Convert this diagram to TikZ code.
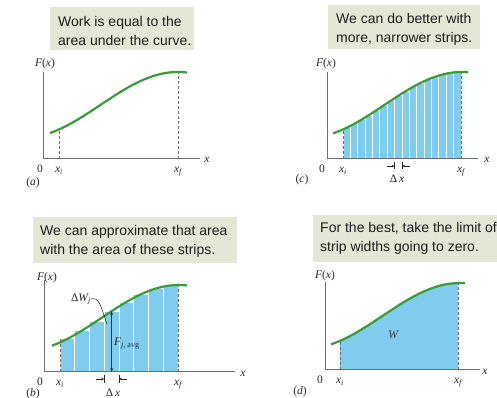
\documentclass[tikz,border=0pt]{standalone}
\usepackage{fontspec}
\setmainfont{Liberation Serif}
\setsansfont{Liberation Sans}
\usetikzlibrary{arrows.meta}
\definecolor{boxfill}{RGB}{228,231,214}
\definecolor{stripblue}{RGB}{128,204,238}
\definecolor{curvegreen}{RGB}{58,155,58}
\definecolor{axisgray}{RGB}{110,110,110}
\definecolor{textdark}{RGB}{30,30,30}
\definecolor{arrowblue}{RGB}{30,50,80}
\pgfmathdeclarefunction{hh}{1}{\pgfmathparse{54.1-32.9*cos(1.16129*(#1+20))}}
\begin{document}
\begin{tikzpicture}[x=1pt,y=1pt,
  capbox/.style={fill=boxfill, draw=none, anchor=north west, inner sep=0pt},
  captext/.style={anchor=north west, align=left, font=\sffamily\fontsize{14}{18.5}\selectfont, text=textdark, inner sep=0pt},
  axisline/.style={draw=axisgray, line width=1pt},
  curveline/.style={draw=curvegreen, line width=2.2pt},
  guide/.style={draw=axisgray, dash pattern=on 3pt off 2pt, line width=0.7pt},
  lbl/.style={font=\fontsize{11.5}{13}\selectfont, text=black!85, inner sep=0pt},
  strip/.style={fill=stripblue, draw=white, line width=0.9pt},
  fjarrow/.style={draw=arrowblue, line width=0.6pt, {Stealth[length=4pt,width=3pt]}-{Stealth[length=4pt,width=3pt]}},
  dxarrow/.style={draw=black!85, line width=0.5pt, -{Stealth[length=3pt,width=2.5pt]}},
  dxtick/.style={draw=black!85, line width=0.5pt},
  leader/.style={draw=black!85, line width=0.5pt}
]
\useasboundingbox (0,0) rectangle (497,398);

% ---------- caption boxes ----------
\node[capbox, minimum width=144pt, minimum height=43pt] (boxa) at (50,391) {};
\node[captext] (capa) at (58,381.4) {Work is equal to the\\area under the curve.};
\node[capbox, minimum width=152pt, minimum height=44pt] (boxc) at (328,393) {};
\node[captext] (capc) at (336,384.4) {We can do better with\\more, narrower strips.};
\node[capbox, minimum width=204pt, minimum height=46pt] (boxb) at (33,181) {};
\node[captext] (capb) at (40,172.7) {We can approximate that area\\with the area of these strips.};
\node[capbox, minimum width=185pt, minimum height=47pt] (boxd) at (313,183) {};
\node[captext] (capd) at (320,175.4) {For the best, take the limit of\\strip widths going to zero.};

% ---------- panel (a) ----------
\begin{scope}[shift={(43,239)}]
  \coordinate (a0) at (0,0);
  \coordinate (atop) at (0,87);
  \coordinate (aright) at (157,0);
  \coordinate (aib) at (16,0);
  \coordinate (ait) at (16,{hh(16)});
  \coordinate (afb) at (135,0);
  \coordinate (aft) at (135,{hh(135)});
  \draw[guide] (aib) -- (ait);
  \draw[guide] (afb) -- (aft);
  \draw[axisline] (atop) -- (a0) -- (aright);
  \draw[curveline] plot[domain=7:144, samples=70] (\x,{hh(\x)});
  \node[lbl, anchor=base] (aFx) at (2,92) {{\itshape F}({\itshape x})};
  \node[lbl, anchor=base] (azero) at (-3,-14) {0};
  \node[lbl, anchor=base] (axi) at (16,-14) {{\itshape x}\textsubscript{\itshape i}};
  \node[lbl, anchor=base] (axf) at (135,-14) {{\itshape x}\textsubscript{\itshape f}};
  \node[lbl, anchor=base] (ax) at (164,-4) {\itshape x};
  \node[lbl, anchor=base] (alab) at (-10,-27) {({\itshape a})};
\end{scope}

% ---------- panel (c) ----------
\begin{scope}[shift={(327,239)}]
  \foreach \k in {0,...,15}{
    \pgfmathsetmacro\xa{16+7.375*\k}
    \pgfmathsetmacro\xb{\xa+7.375}
    \pgfmathsetmacro\tp{hh(\xa+3.6875)}
    \path[strip] (\xa,0) rectangle (\xb,\tp);
  }
  \coordinate (c0) at (0,0);
  \coordinate (ctop) at (0,87);
  \coordinate (cright) at (151,0);
  \coordinate (cib) at (16,0);
  \coordinate (cit) at (16,{hh(19.7)});
  \coordinate (cfb) at (134,0);
  \coordinate (cft) at (134,{hh(130.3)});
  \draw[guide] (cib) -- (cit);
  \draw[guide] (cfb) -- (cft);
  \draw[axisline] (ctop) -- (c0) -- (cright);
  \draw[curveline] plot[domain=6:141, samples=70] (\x,{hh(\x)});
  \node[lbl, anchor=base] (cFx) at (-1,92) {{\itshape F}({\itshape x})};
  \node[lbl, anchor=base] (czero) at (-5,-14) {0};
  \node[lbl, anchor=base] (cxi) at (16,-14) {{\itshape x}\textsubscript{\itshape i}};
  \node[lbl, anchor=base] (cxf) at (134,-14) {{\itshape x}\textsubscript{\itshape f}};
  \node[lbl, anchor=base] (cx) at (160,-4) {\itshape x};
  \node[lbl, anchor=base] (clab) at (-25,-24) {({\itshape c})};
  \coordinate (cl1) at (60,-7);
  \coordinate (cl2) at (67.6,-7);
  \coordinate (cr1) at (83,-7);
  \coordinate (cr2) at (75,-7);
  \coordinate (ct1a) at (67.6,-3.5);
  \coordinate (ct1b) at (67.6,-10.5);
  \coordinate (ct2a) at (75,-3.5);
  \coordinate (ct2b) at (75,-10.5);
  \draw[dxarrow] (cl1) -- (cl2);
  \draw[dxarrow] (cr1) -- (cr2);
  \draw[dxtick] (ct1a) -- (ct1b);
  \draw[dxtick] (ct2a) -- (ct2b);
  \node[lbl, anchor=base] (cdx) at (70,-24) {Δ\,{\itshape x}};
\end{scope}

% ---------- panel (b) ----------
\begin{scope}[shift={(44,26)}]
  \foreach \k in {0,...,7}{
    \pgfmathsetmacro\xa{16+14.75*\k}
    \pgfmathsetmacro\xb{\xa+14.75}
    \pgfmathsetmacro\tp{hh(\xa+7.375)}
    \path[strip] (\xa,0) rectangle (\xb,\tp);
  }
  \coordinate (b0) at (0,0);
  \coordinate (btop) at (0,92);
  \coordinate (bright) at (191,0);
  \coordinate (bib) at (16,0);
  \coordinate (bit) at (16,{hh(23.4)});
  \coordinate (bfb) at (134,0);
  \coordinate (bft) at (134,{hh(126.6)});
  \draw[guide] (bib) -- (bit);
  \draw[guide] (bfb) -- (bft);
  \draw[axisline] (btop) -- (b0) -- (bright);
  \draw[curveline] plot[domain=8:143, samples=70] (\x,{hh(\x)});
  \coordinate (fjb) at (67.6,0);
  \coordinate (fjt) at (67.6,{hh(67.6)});
  \draw[fjarrow] (fjb) -- (fjt);
  \node[lbl, anchor=west] (fjl) at (70,28) {{\itshape F}\textsubscript{{\itshape j}, avg}};
  \node[lbl, anchor=east] (dwl) at (47,73) {Δ{\itshape W}\textsubscript{\itshape j}};
  \coordinate (ldend) at (63,48);
  \draw[leader] (dwl.east) .. controls (55,75) and (56,68) .. (ldend);
  \node[lbl, anchor=base] (bFx) at (3,91) {{\itshape F}({\itshape x})};
  \node[lbl, anchor=base] (bzero) at (-4,-14) {0};
  \node[lbl, anchor=base] (bxi) at (16,-14) {{\itshape x}\textsubscript{\itshape i}};
  \node[lbl, anchor=base] (bxf) at (134,-14) {{\itshape x}\textsubscript{\itshape f}};
  \node[lbl, anchor=base] (bx) at (199,-5) {\itshape x};
  \node[lbl, anchor=base] (blab) at (-11,-25) {({\itshape b})};
  \coordinate (bl1) at (52,-7);
  \coordinate (bl2) at (60.25,-7);
  \coordinate (br1) at (83,-7);
  \coordinate (br2) at (75,-7);
  \coordinate (bt1a) at (60.25,-3);
  \coordinate (bt1b) at (60.25,-11);
  \coordinate (bt2a) at (75,-3);
  \coordinate (bt2b) at (75,-11);
  \draw[dxarrow] (bl1) -- (bl2);
  \draw[dxarrow] (br1) -- (br2);
  \draw[dxtick] (bt1a) -- (bt1b);
  \draw[dxtick] (bt2a) -- (bt2b);
  \node[lbl, anchor=base] (bdx) at (69,-25) {Δ\,{\itshape x}};
\end{scope}

% ---------- panel (d) ----------
\begin{scope}[shift={(325,28)}]
  \fill[stripblue] (15,0) -- plot[domain=15:133, samples=60] (\x,{hh(\x)}) -- (133,0) -- cycle;
  \coordinate (d0) at (0,0);
  \coordinate (dtop) at (0,88);
  \coordinate (dright) at (155,0);
  \coordinate (dib) at (15,0);
  \coordinate (dit) at (15,{hh(15)});
  \coordinate (dfb) at (133,0);
  \coordinate (dft) at (133,{hh(133)});
  \draw[guide] (dib) -- (dit);
  \draw[guide] (dfb) -- (dft);
  \draw[axisline] (dtop) -- (d0) -- (dright);
  \draw[curveline] plot[domain=6:140, samples=70] (\x,{hh(\x)});
  \node[lbl, font=\fontsize{12}{14}\selectfont, text=black!75] (dW) at (68,35) {\itshape W};
  \node[lbl, anchor=base] (dFx) at (0,91) {{\itshape F}({\itshape x})};
  \node[lbl, anchor=base] (dzero) at (-5,-14) {0};
  \node[lbl, anchor=base] (dxi) at (15,-14) {{\itshape x}\textsubscript{\itshape i}};
  \node[lbl, anchor=base] (dxf) at (133,-14) {{\itshape x}\textsubscript{\itshape f}};
  \node[lbl, anchor=base] (dx) at (160,-5) {\itshape x};
  \node[lbl, anchor=base] (dlab) at (-25,-25) {({\itshape d})};
\end{scope}
\end{tikzpicture}
\end{document}
